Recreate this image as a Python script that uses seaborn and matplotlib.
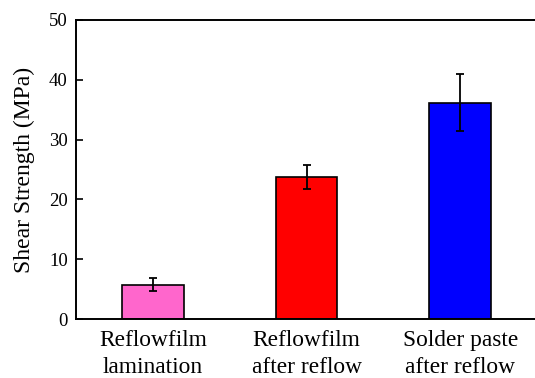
import matplotlib
matplotlib.use("Agg")
import matplotlib.pyplot as plt
import seaborn as sns
import pandas as pd

categories = ["Reflowfilm\nlamination", "Reflowfilm\nafter reflow", "Solder paste\nafter reflow"]
shear_strength = [5.7, 23.8, 36.2]
shear_error = [1.1, 2.0, 4.8]
bar_colors = ["#ff66cc", "#ff0000", "#0000ff"]
y_ticks = [0, 10, 20, 30, 40, 50]

sns.set_theme(style="white")
plt.rcParams["font.family"] = ["Liberation Serif", "DejaVu Serif"]
plt.rcParams["text.color"] = "black"
plt.rcParams["axes.labelcolor"] = "black"
plt.rcParams["xtick.color"] = "black"
plt.rcParams["ytick.color"] = "black"

df = pd.DataFrame({"category": categories, "strength": shear_strength})

fig = plt.figure(figsize=(5.35, 3.78), dpi=100)
ax = fig.add_axes([76 / 535, 1 - 319 / 378, 461 / 535, 299 / 378])

sns.barplot(data=df, x="category", y="strength", hue="category",
            palette=bar_colors, saturation=1, width=0.4, edgecolor="black",
            linewidth=1.2, legend=False, ax=ax, errorbar=None)
ax.errorbar(range(len(categories)), shear_strength, yerr=shear_error,
            fmt="none", ecolor="black", elinewidth=1.3, capsize=3, capthick=1.3)

ax.set_xlim(-0.5, 2.5)
ax.set_ylim(0, 50)
ax.set_yticks(y_ticks)
ax.set_xlabel("")
ax.set_ylabel("Shear Strength (MPa)", fontsize=17, labelpad=10)
ax.tick_params(axis="y", direction="in", length=5, width=1.2, labelsize=13.5,
               pad=6, left=True, colors="black")
ax.tick_params(axis="x", length=0, labelsize=16.8, pad=8, colors="black")
for lbl in ax.get_xticklabels():
    lbl.set_linespacing(1.38)

for side in ["left", "bottom", "top"]:
    ax.spines[side].set_visible(True)
    ax.spines[side].set_linewidth(1.4)
    ax.spines[side].set_color("black")
ax.spines["right"].set_visible(False)

fig.savefig("out.png", dpi=100)
